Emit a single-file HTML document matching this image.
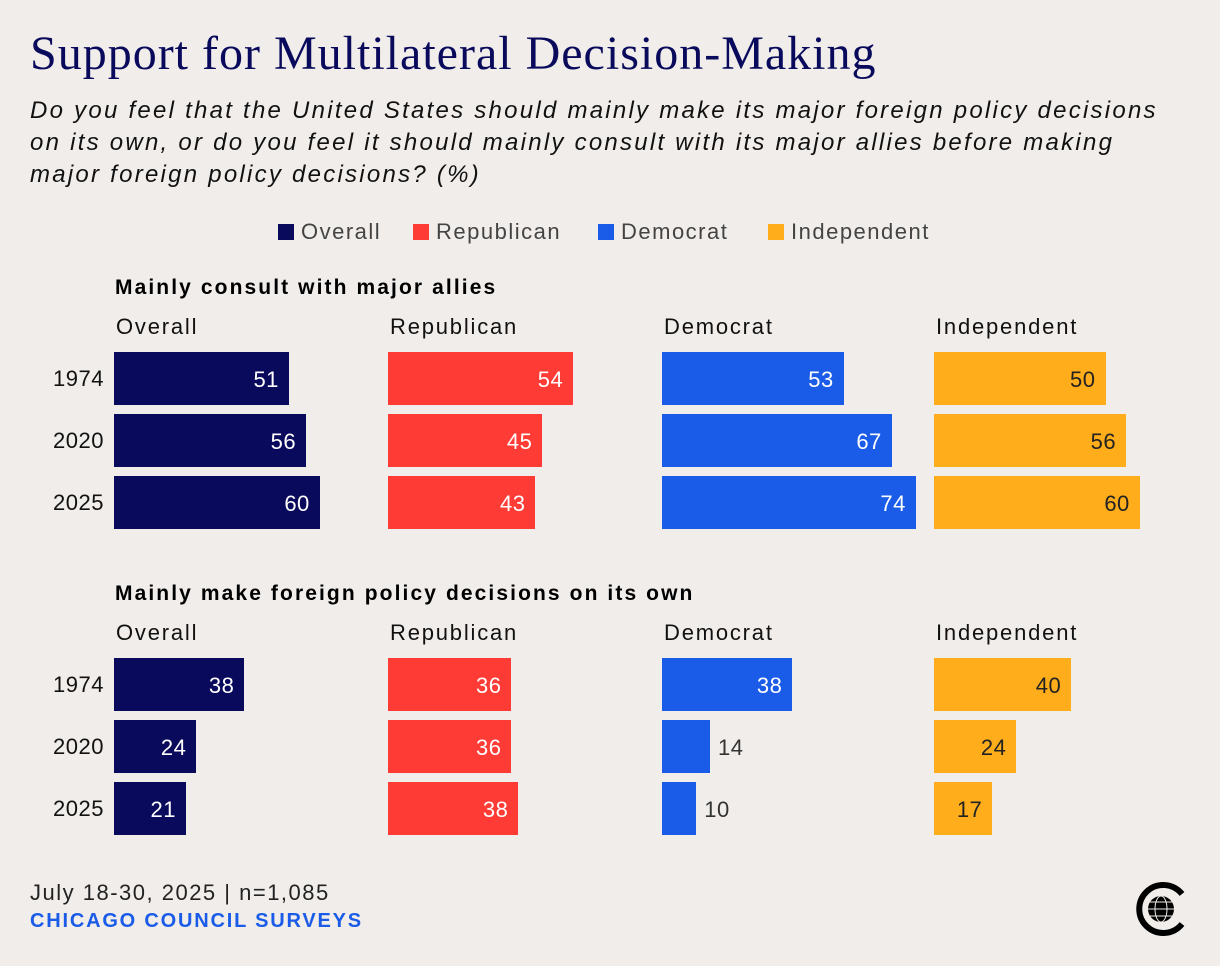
<!DOCTYPE html>
<html><head><meta charset="utf-8"><style>
body{margin:0;background:#f0edea;font-family:"Liberation Sans",sans-serif;}
#root{position:relative;width:1220px;height:966px;overflow:hidden;background:#f0edea;}
.abs{position:absolute;white-space:nowrap;}
.title{left:30px;top:26px;font-family:"Liberation Serif",serif;font-size:48px;color:#0a0a5c;letter-spacing:1px;}
.sub{left:30px;top:95px;font-size:24px;font-style:italic;line-height:32px;color:#111;letter-spacing:2.25px;}
.leg{top:219px;font-size:22px;color:#444;letter-spacing:1.5px;}
.sw{display:inline-block;width:16px;height:16px;margin-right:7px;vertical-align:-1px;}
.sec{left:115px;font-size:21px;font-weight:bold;color:#000;letter-spacing:2.1px;}
.pan{font-size:22px;color:#111;letter-spacing:1.8px;}
.yr{font-size:22px;color:#111;width:80px;text-align:right;left:24px;letter-spacing:0.5px;}
.bar{position:absolute;}
.val{position:absolute;font-size:22px;line-height:53px;letter-spacing:0.5px;}
</style></head><body>
<div id="root">
<div class="abs title">Support for Multilateral Decision-Making</div>
<div class="abs sub">Do you feel that the United States should mainly make its major foreign policy decisions<br>on its own, or do you feel it should mainly consult with its major allies before making<br>major foreign policy decisions? (%)</div>
<div class="abs leg" style="left:278px"><span class="sw" style="background:#0a0a5c"></span>Overall</div>
<div class="abs leg" style="left:413px"><span class="sw" style="background:#ff3b36"></span>Republican</div>
<div class="abs leg" style="left:598px"><span class="sw" style="background:#1a5ce8"></span>Democrat</div>
<div class="abs leg" style="left:768px"><span class="sw" style="background:#ffad1a"></span>Independent</div>
<div class="abs" style="left:30px;top:880px;font-size:22px;color:#222;letter-spacing:1.5px">July 18-30, 2025 | n=1,085</div>
<div class="abs" style="left:30px;top:910px;font-size:20px;font-weight:bold;color:#1a5ce8;letter-spacing:1.8px">CHICAGO COUNCIL SURVEYS</div>
<svg class="abs" style="left:1130px;top:878px" width="62" height="62" viewBox="0 0 62 62">
<path d="M52 46 A24 24 0 1 1 52 16" fill="none" stroke="#000" stroke-width="6"/>
<circle cx="31" cy="31" r="13" fill="#000"/>
<g fill="none" stroke="#f0edea" stroke-width="1"><ellipse cx="31" cy="31" rx="6" ry="13"/><line x1="18" y1="31" x2="44" y2="31"/><line x1="20" y1="24" x2="42" y2="24"/><line x1="20" y1="38" x2="42" y2="38"/></g>
</svg>
</div>
<script>
const groups=["Overall","Republican","Democrat","Independent"];
const years=["1974","2020","2025"];
const consultValues=[[51,56,60],[54,45,43],[53,67,74],[50,56,60]];
const ownValues=[[38,24,21],[36,36,38],[38,14,10],[40,24,17]];
const colors=["#0a0a5c","#ff3b36","#1a5ce8","#ffad1a"];
const root=document.getElementById('root');
const xScale=v=>v*3.43;
const panelX=i=>114+i*274-(i===3?2:0);
function add(cls,css,txt){const d=document.createElement('div');d.className=cls;d.style.cssText=css;if(txt!==undefined)d.textContent=txt;root.appendChild(d);return d;}
function section(title,vals,top,key){
  let t=add('abs sec','top:'+(top-76)+'px',title);
  
  
  years.forEach((y,r)=>{
    let l=add('abs yr','top:'+(top+r*62+14)+'px',y);
    
    
  });
  groups.forEach((g,i)=>{
    const x0=panelX(i);
    let p=add('abs pan','left:'+(x0+2)+'px;top:'+(top-38)+'px',g);
    
    
    vals[i].forEach((v,r)=>{
      const w=xScale(v),y=top+r*62;
      let b=add('bar','left:'+x0+'px;top:'+y+'px;width:'+w+'px;height:53px;background:'+colors[i]);
      
      
      const dark=i===3;
      let lab;
      if(w<50){lab=add('val','left:'+(x0+w+8)+'px;top:'+(y+1)+'px;color:#333',String(v));}
      else{lab=add('val','left:'+x0+'px;width:'+(w-10)+'px;text-align:right;top:'+(y+1)+'px;color:'+(dark?'#222':'#fff'),String(v));}
      
      
    });
  });
}
section('Mainly consult with major allies',consultValues,352,'consult');
section('Mainly make foreign policy decisions on its own',ownValues,658,'own');
</script>
</body></html>
